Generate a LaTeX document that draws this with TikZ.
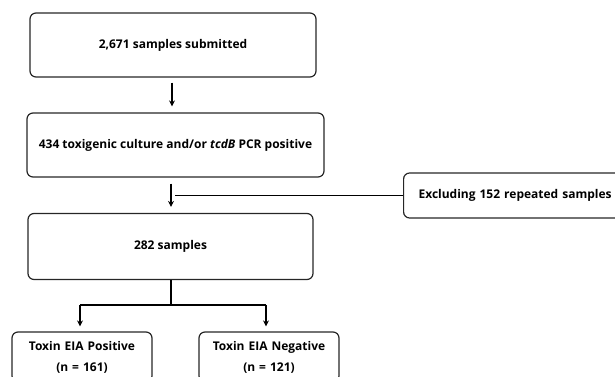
\documentclass[tikz,border=0pt]{standalone}
\usepackage{fontspec}
\setmainfont{Open Sans}
\usetikzlibrary{arrows.meta}
\begin{document}
\begin{tikzpicture}[x=0.75pt,y=-0.75pt,
  box/.style={draw=black!85,line width=0.9pt,rounded corners=4.5pt,inner sep=0pt,
    font=\fontsize{9}{15.75}\selectfont\bfseries,align=center},
  conn/.style={line width=1.5pt,-{Stealth[length=4.5pt,width=4.5pt]}},
  plain/.style={line width=1.5pt}]
\useasboundingbox (0,0) rectangle (615,377);
\clip (0,0) rectangle (615,377);
\node[box,minimum width=286*0.75pt,minimum height=64*0.75pt] (b1) at (173,45) {2,671 samples submitted};
\node[box,minimum width=297*0.75pt,minimum height=64*0.75pt] (b2) at (175.5,145) {434 toxigenic culture and/or \textit{tcdB} PCR positive};
\node[box,minimum width=285*0.75pt,minimum height=66*0.75pt] (b4) at (170.5,246.5) {282 samples};
\node[box,anchor=west,minimum width=240*0.75pt,minimum height=45*0.75pt,text width=210*0.75pt,align=left,inner xsep=15*0.75pt] (b3) at (403,195.5) {Excluding 152 repeated samples};
\node[box,minimum width=140*0.75pt,minimum height=50*0.75pt,text width=140*0.75pt] (b5) at (82,357) {Toxin EIA Positive\\(n = 161)};
\node[box,minimum width=140*0.75pt,minimum height=50*0.75pt,text width=140*0.75pt] (b6) at (269,357) {Toxin EIA Negative\\(n = 121)};
\draw[conn,shorten <=5*0.75pt,shorten >=6*0.75pt] (b1.south -| 172,0) -- (b2.north -| 172,0);
\draw[conn,shorten <=6*0.75pt,shorten >=6*0.75pt] (b2.south -| 171,0) -- (b4.north -| 171,0);
\coordinate (j) at (175,195.5);
\draw[line width=1pt] (b3.west) -- (j);
\coordinate (s) at (171,305);
\draw[plain] (b4.south -| s) -- (s);
\draw[plain] (s -| 80,0) -- (s -| 266,0);
\draw[conn,shorten >=5*0.75pt] (s -| 80,0) -- (b5.north -| 80,0);
\draw[conn,shorten >=5*0.75pt] (s -| 266,0) -- (b6.north -| 266,0);
\end{tikzpicture}
\end{document}
